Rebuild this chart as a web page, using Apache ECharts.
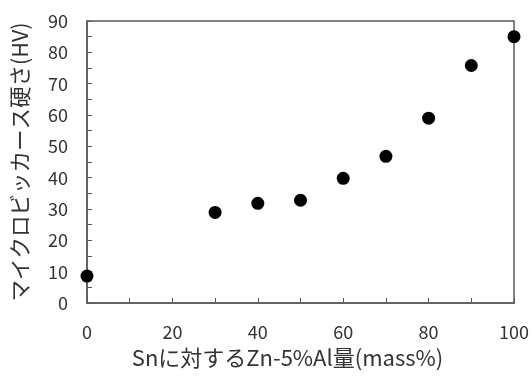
<!DOCTYPE html>
<html>
<head>
<meta charset="utf-8">
<script src="https://cdn.jsdelivr.net/npm/echarts@6/dist/echarts.min.js"></script>
<style>
  html, body { margin: 0; padding: 0; background: #fff; }
  #chart { width: 532px; height: 376px; }
</style>
</head>
<body>
<div id="chart"></div>
<script>
// Zn-5%Al content (mass%) vs micro Vickers hardness
const znAlContent = [0, 30, 40, 50, 60, 70, 80, 90, 100];
const hardness = [8.6, 28.9, 31.8, 32.8, 39.8, 46.8, 59.0, 75.8, 85.0];

const xName = 'Snに対するZn-5%Al量(mass%)';
const yName = 'マイクロビッカース硬さ(HV)';

const FONT = '"Noto Sans CJK JP", "Noto Sans", sans-serif';
const AXIS_COLOR = '#595959';
const TEXT_COLOR = '#333';

const chart = echarts.init(document.getElementById('chart'));

const option = {
  backgroundColor: '#fff',
  animation: false,
  grid: {
    left: 87,
    right: 17,
    top: 21,
    bottom: 73,
    show: true,
    borderColor: AXIS_COLOR,
    borderWidth: 1.5,
  },
  xAxis: {
    type: 'value',
    min: 0,
    max: 100,
    interval: 20,
    name: xName,
    nameLocation: 'middle',
    nameGap: 44,
    nameTextStyle: { fontFamily: FONT, fontSize: 22, color: TEXT_COLOR, padding: [0, 26, 0, 0] },
    axisLine: { lineStyle: { color: AXIS_COLOR, width: 1.5 } },
    axisTick: { inside: true, length: 5, lineStyle: { color: AXIS_COLOR } },
    minorTick: { show: true, splitNumber: 2, length: 5, lineStyle: { color: AXIS_COLOR } },
    axisLabel: { fontFamily: FONT, fontSize: 18, color: TEXT_COLOR, margin: 20 },
    splitLine: { show: false },
  },
  yAxis: {
    type: 'value',
    min: 0,
    max: 90,
    interval: 10,
    name: yName,
    nameLocation: 'middle',
    nameGap: 56,
    nameTextStyle: { fontFamily: FONT, fontSize: 21.5, color: TEXT_COLOR },
    axisLine: { show: true, lineStyle: { color: AXIS_COLOR, width: 1.5 } },
    axisTick: { show: true, inside: true, length: 5, lineStyle: { color: AXIS_COLOR } },
    minorTick: { show: true, splitNumber: 2, length: 5, lineStyle: { color: AXIS_COLOR } },
    axisLabel: { fontFamily: FONT, fontSize: 18, color: TEXT_COLOR, margin: 19 },
    splitLine: { show: false },
  },
  series: [
    {
      type: 'scatter',
      symbol: 'circle',
      symbolSize: 13,
      itemStyle: { color: '#000', opacity: 1 },
      clip: false,
      data: znAlContent.map((x, i) => [x, hardness[i]]),
    },
  ],
};

chart.setOption(option);
</script>
</body>
</html>
